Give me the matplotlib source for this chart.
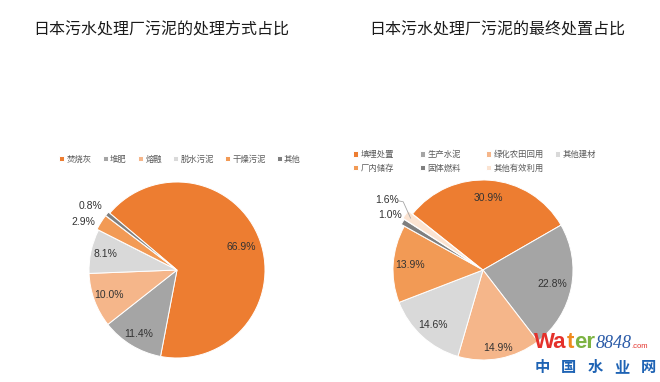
import matplotlib
matplotlib.use("Agg")
import matplotlib.pyplot as plt
import numpy as np
from matplotlib.offsetbox import TextArea, HPacker, AnnotationBbox

plt.rcParams['font.family'] = ['Noto Sans CJK SC', 'DejaVu Sans']

# ---------------- data ----------------
title_left = "日本污水处理厂污泥的处理方式占比"
title_right = "日本污水处理厂污泥的最终处置占比"

left_labels = ["焚烧灰", "堆肥", "熔融", "脱水污泥", "干燥污泥", "其他"]
left_values = [66.9, 11.4, 10.0, 8.1, 2.9, 0.8]

right_labels = ["填埋处置", "生产水泥", "绿化农田回用", "其他建材", "厂内储存", "固体燃料", "其他有效利用"]
right_values = [30.9, 22.8, 14.9, 14.6, 13.9, 1.0, 1.6]

left_colors = ["#ED7D31", "#A5A5A5", "#F5B68A", "#D9D9D9", "#F29A55", "#7F7F7F"]
right_colors = ["#ED7D31", "#A5A5A5", "#F5B68A", "#D9D9D9", "#F29A55", "#7F7F7F", "#FBE3D1"]

W, H = 660, 382
fig = plt.figure(figsize=(W / 100, H / 100), dpi=100)
fig.patch.set_facecolor("white")


def make_ax(cx, cy, r):
    return fig.add_axes([(cx - r) / W, (H - cy - r) / H, 2 * r / W, 2 * r / H])


label_color = "#333333"
lab_font = dict(family=["Liberation Sans", "DejaVu Sans"], fontsize=7.5, color=label_color)


def draw_pie(ax, values, colors, start, explode, inside_r, outside):
    wedges, _ = ax.pie(values, colors=colors, startangle=start, counterclock=False,
                       explode=explode,
                       wedgeprops=dict(edgecolor="white", linewidth=0.7))
    ax.set_xlim(-1, 1)
    ax.set_ylim(-1, 1)
    ax.set_aspect("equal")
    for i, (w, v) in enumerate(zip(wedges, values)):
        mid = np.deg2rad((w.theta1 + w.theta2) / 2)
        txt = f"{v:.1f}%"
        if i in outside:
            rr, dang = outside[i]
            a = mid + np.deg2rad(dang)
            ax.text(rr * np.cos(a), rr * np.sin(a), txt, ha="center", va="center",
                    clip_on=False, **lab_font)
        else:
            rr = inside_r[i]
            ax.text(rr * np.cos(mid), rr * np.sin(mid), txt, ha="center", va="center",
                    **lab_font)
    return wedges


# left pie
axL = make_ax(177, 270, 88)
wl = draw_pie(axL, left_values, left_colors, 139.8,
              [0, 0, 0, 0, 0.02, 0.02],
              {0: 0.78, 1: 0.85, 2: 0.83, 3: 0.83},
              {4: (1.2, 5.0), 5: (1.22, 2.5)})

# right pie
axR = make_ax(483, 270, 90)
wr = draw_pie(axR, right_values, right_colors, 141.5,
              [0, 0, 0, 0, 0, 0.04, 0.06],
              {0: 0.8, 1: 0.79, 2: 0.88, 3: 0.83, 4: 0.81},
              {5: (1.2, 0.3), 6: (1.32, -0.5)})
# leader line for the 1.6% label
w6 = wr[6]
m6 = np.deg2rad((w6.theta1 + w6.theta2) / 2)
p_in = np.array([np.cos(m6), np.sin(m6)]) * 0.99
a6 = m6 - np.deg2rad(0.5)
p_lab = np.array([np.cos(a6), np.sin(a6)]) * 1.32
axR.plot([p_lab[0] + 0.13, p_lab[0] + 0.18, p_in[0]], [p_lab[1] - 0.01, p_lab[1] - 0.02, p_in[1]],
         color="#A6A6A6", lw=0.6, clip_on=False)

# titles
title_font = dict(fontsize=11.5, color="#1a1a1a", ha="center", va="center")
fig.text(161 / W, 1 - 30 / H, title_left, **title_font)
fig.text(497 / W, 1 - 30 / H, title_right, **title_font)

# legends
leg_kw = dict(frameon=False, fontsize=6, handlelength=0.6, handleheight=0.6,
              handletextpad=0.3, labelcolor="#595959", borderpad=0, borderaxespad=0)
fig.legend(wl, left_labels, ncol=6, loc="center", bbox_to_anchor=(180 / W, 1 - 159 / H),
           columnspacing=1.3, **leg_kw)

right_cols = [[0, 4], [1, 5], [2, 6], [3]]
col_x = [353, 420, 486, 555]
for cols, x in zip(right_cols, col_x):
    fig.legend([wr[i] for i in cols], [right_labels[i] for i in cols], ncol=1,
               loc="upper left", bbox_to_anchor=(x / W, 1 - 150 / H),
               labelspacing=0.55, **leg_kw)

# watermark
parts = [("Wa", "#E4312B", 16, "normal", "Liberation Sans", "bold"),
         ("t", "#F08A1D", 16, "normal", "Liberation Sans", "bold"),
         ("er", "#7CB342", 16, "normal", "Liberation Sans", "bold"),
         ("8848", "#2B5BA8", 13, "italic", "Liberation Serif", "normal"),
         (".com", "#E4312B", 5.5, "normal", "Liberation Sans", "normal")]
areas = [TextArea(t, textprops=dict(color=c, fontsize=s, style=st, family=f, fontweight=fw))
         for t, c, s, st, f, fw in parts]
box = HPacker(children=areas, align="baseline", pad=0, sep=0)
ab = AnnotationBbox(box, (591 / W, 1 - 343 / H), xycoords="figure fraction", frameon=False,
                    box_alignment=(0.5, 0.5))
fig.add_artist(ab)
for k, ch in enumerate("中国水业网"):
    fig.text((542 + k * 26.5) / W, 1 - 367 / H, ch, fontsize=11, fontweight="bold",
             color="#1E63B4", ha="center", va="center")

fig.savefig("out.png", dpi=100, facecolor="white")
